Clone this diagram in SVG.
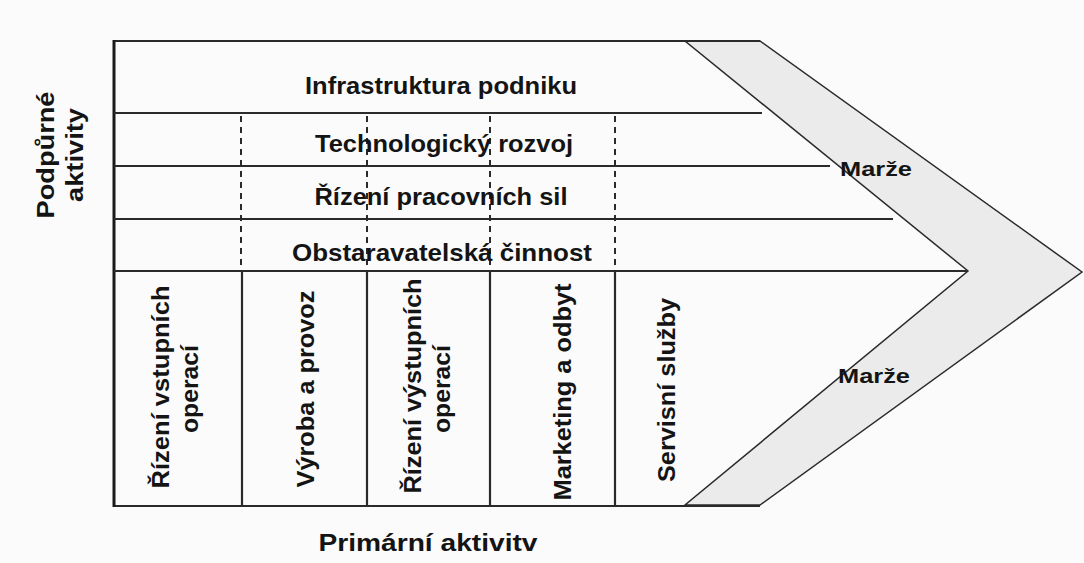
<svg xmlns="http://www.w3.org/2000/svg" width="1084" height="563" viewBox="0 0 1084 563">
<style>
  .t { font-family: "Liberation Sans", Arial, sans-serif; font-weight: bold; fill: #141414; }
  .s { font-size: 24px; text-anchor: middle; }
  .v { font-size: 23px; text-anchor: middle; }
  .m { font-size: 21px; }
  .ln { stroke: #2a2a2a; stroke-width: 2.2; fill: none; }
  .dash { stroke: #2a2a2a; stroke-width: 2; stroke-dasharray: 6 5; fill: none; }
</style>
<rect x="0" y="0" width="1084" height="563" fill="#fbfbfb"/>

<g id="margin-band">
  <polygon points="685,41 760,41 1082,272 760,505 685,505 968,271" fill="#ebebeb" stroke="#2a2a2a" stroke-width="1.5" stroke-linejoin="miter"/>
</g>

<g id="frame">
  <line class="ln" x1="113" y1="41" x2="760" y2="41"/>
  <line class="ln" x1="113" y1="506" x2="760" y2="506"/>
  <line x1="114" y1="40" x2="114" y2="507" stroke="#1a1a1a" stroke-width="3"/>
</g>

<g id="connectors">
  <line class="ln" x1="114" y1="113" x2="762" y2="113"/>
  <line class="ln" x1="114" y1="166" x2="830" y2="166"/>
  <line class="ln" x1="114" y1="219" x2="893" y2="219"/>
  <line class="ln" x1="114" y1="271" x2="968" y2="271"/>
  <line class="dash" x1="241" y1="116" x2="241" y2="270"/>
  <line class="dash" x1="367" y1="116" x2="367" y2="270"/>
  <line class="dash" x1="490" y1="116" x2="490" y2="270"/>
  <line class="dash" x1="615" y1="116" x2="615" y2="270"/>
  <line class="ln" x1="242" y1="271" x2="242" y2="506"/>
  <line class="ln" x1="367" y1="271" x2="367" y2="506"/>
  <line class="ln" x1="490" y1="271" x2="490" y2="506"/>
  <line class="ln" x1="615" y1="271" x2="615" y2="506"/>
</g>

<g id="infrastruktura">
  <text class="t s" x="441" y="94" textLength="272" lengthAdjust="spacingAndGlyphs">Infrastruktura podniku</text>
</g>
<g id="technologicky-rozvoj">
  <text class="t s" x="444" y="152" textLength="258" lengthAdjust="spacingAndGlyphs">Technologický rozvoj</text>
</g>
<g id="rizeni-pracovnich-sil">
  <text class="t s" x="441" y="205" textLength="253" lengthAdjust="spacingAndGlyphs">Řízení pracovních sil</text>
</g>
<g id="obstaravatelska-cinnost">
  <text class="t s" x="442" y="261" textLength="300" lengthAdjust="spacingAndGlyphs">Obstaravatelská činnost</text>
</g>

<g id="rizeni-vstupnich-operaci">
  <text class="t v" transform="translate(169,387) rotate(-90)" textLength="203" lengthAdjust="spacingAndGlyphs">Řízení vstupních</text>
  <text class="t v" transform="translate(198,389) rotate(-90)" textLength="88" lengthAdjust="spacingAndGlyphs">operací</text>
</g>
<g id="vyroba-a-provoz">
  <text class="t v" transform="translate(314,389) rotate(-90)" textLength="197" lengthAdjust="spacingAndGlyphs">Výroba a provoz</text>
</g>
<g id="rizeni-vystupnich-operaci">
  <text class="t v" transform="translate(421,386) rotate(-90)" textLength="215" lengthAdjust="spacingAndGlyphs">Řízení výstupních</text>
  <text class="t v" transform="translate(450,389) rotate(-90)" textLength="88" lengthAdjust="spacingAndGlyphs">operací</text>
</g>
<g id="marketing-a-odbyt">
  <text class="t v" transform="translate(571,392) rotate(-90)" textLength="217" lengthAdjust="spacingAndGlyphs">Marketing a odbyt</text>
</g>
<g id="servisni-sluzby">
  <text class="t v" transform="translate(675,390) rotate(-90)" textLength="184" lengthAdjust="spacingAndGlyphs">Servisní služby</text>
</g>

<g id="marze-top">
  <text class="t m" x="840" y="176" textLength="72" lengthAdjust="spacingAndGlyphs">Marže</text>
</g>
<g id="marze-bottom">
  <text class="t m" x="838" y="383" textLength="72" lengthAdjust="spacingAndGlyphs">Marže</text>
</g>

<g id="podpurne-aktivity">
  <text class="t s" transform="translate(54,155) rotate(-90)" textLength="127" lengthAdjust="spacingAndGlyphs">Podpůrné</text>
  <text class="t s" transform="translate(83,155) rotate(-90)" textLength="94" lengthAdjust="spacingAndGlyphs">aktivity</text>
</g>

<g id="primarni-aktivity">
  <text class="t s" x="428" y="551" font-size="25" textLength="219" lengthAdjust="spacingAndGlyphs">Primární aktivitv</text>
</g>
</svg>
